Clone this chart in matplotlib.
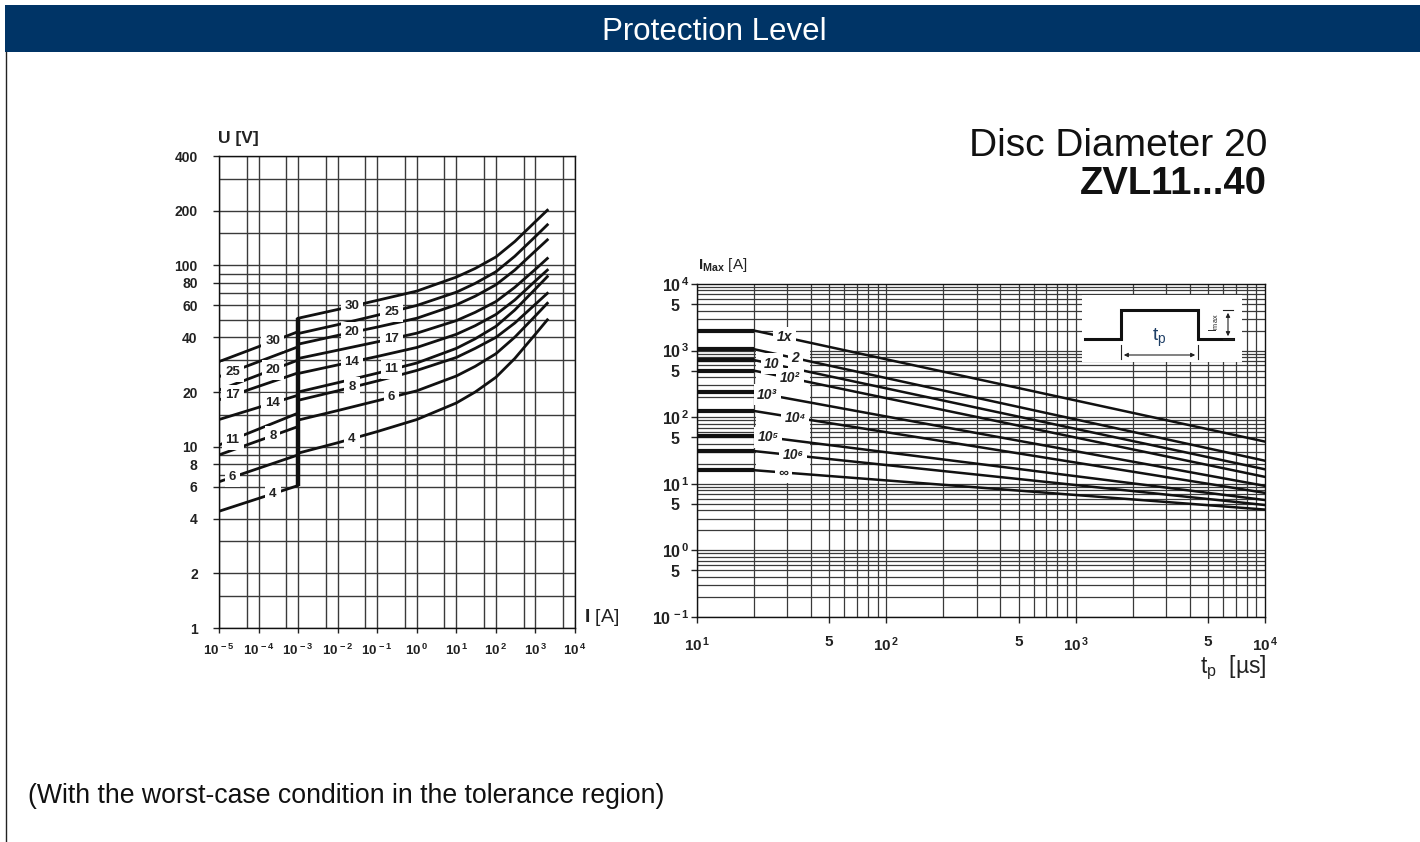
import numpy as np
import matplotlib
matplotlib.use('Agg')
import matplotlib.pyplot as plt
from matplotlib.patches import Rectangle
from matplotlib.lines import Line2D

plt.rcParams['font.family'] = ['Liberation Sans', 'DejaVu Sans']
plt.rcParams['mathtext.fontset'] = 'custom'
plt.rcParams['mathtext.rm'] = 'Liberation Sans'
plt.rcParams['mathtext.bf'] = 'Liberation Sans:bold'
plt.rcParams['mathtext.it'] = 'Liberation Sans:italic'

# ---------------- Left chart data: V/I characteristics ----------------
types = ['4', '6', '8', '11', '14', '17', '20', '25', '30']
# leakage region, straight lines between I = 1e-5 A and 1e-3 A
leak_I = [1e-5, 1e-3]
leak_U_start = [4.4, 6.4, 9.0, 10.2, 14.1, 18.1, 20.5, 24.3, 29.4]
leak_U_end = [6.1, 9.0, 12.9, 15.3, 19.2, 25.5, 30.0, 35.5, 43.0]
# pulse region, I from 1e-3 A to 2e3 A
pulse_I = [1e-3, 1e-2, 1e-1, 1, 10, 30, 100, 300, 1000, 2000]
pulse_U = {
    '4':  [9.2, 10.5, 12.1, 14.1, 17.4, 20.0, 24.1, 30.6, 41.7, 50.0],
    '6':  [14.0, 15.8, 17.9, 20.3, 24.5, 27.7, 32.5, 40.1, 52.6, 61.7],
    '8':  [18.0, 20.3, 23.0, 26.3, 31.0, 34.8, 40.0, 48.0, 61.0, 70.0],
    '11': [20.0, 22.5, 25.4, 28.9, 34.8, 39.3, 46.0, 56.6, 74.0, 86.5],
    '14': [25.3, 28.2, 31.4, 35.2, 41.6, 46.4, 53.5, 64.3, 82.0, 94.0],
    '17': [30.6, 34.0, 37.8, 42.2, 49.5, 55.0, 63.0, 75.5, 95.0, 109.0],
    '20': [36.7, 41.0, 45.6, 51.0, 60.5, 67.5, 78.0, 94.0, 120.0, 138.0],
    '25': [42.0, 47.0, 53.0, 60.0, 71.0, 79.4, 92.0, 112.0, 144.0, 167.0],
    '30': [51.0, 57.0, 64.0, 72.0, 86.0, 96.0, 111.0, 135.0, 174.0, 201.0],
}
left_yticks = [1, 2, 4, 6, 8, 10, 20, 40, 60, 80, 100, 200, 400]
left_xticks = [1e-5, 1e-4, 1e-3, 1e-2, 1e-1, 1e0, 1e1, 1e2, 1e3, 1e4]
left_xtick_labels = [r'$\mathbf{10^{\,%d}}$' % e for e in range(-5, 5)]
left_hgrid = [1, 1.5, 2, 3, 4, 6, 7, 8, 9, 10, 15, 20, 30, 40, 50, 60, 70, 80, 90,
              100, 150, 200, 300, 400]
left_vgrid = [1e-5, 5e-5, 1e-4, 5e-4, 1e-3, 5e-3, 1e-2, 5e-2, 1e-1, 5e-1, 1, 5, 10, 50,
              100, 500, 1000, 5000, 1e4]

# ---------------- Right chart data: derating curves ----------------
pulse_counts = ['1x', '2', '10', '10²', '10³', '10⁴', '10⁵', '10⁶', '∞']
imax_short = [2000, 1050, 720, 500, 237, 124, 53, 31, 16]     # flat part 10..20 us
imax_long = [43, 22.2, 16.5, 12.7, 9.3, 7.3, 5.7, 4.8, 4.1]    # value at 1e4 us
tp_flat = [10, 20]
tp_slope = [20, 10000]
label_tp = [29, 33, 24.9, 31, 23.5, 33, 23.7, 32.2, 28.5]
right_yticks = [0.1, 0.5, 1, 5, 10, 50, 100, 500, 1000, 5000, 10000]
right_ytick_labels = [r'$\mathbf{10^{\,-1}}$', r'$\mathbf{5}$   ', r'$\mathbf{10^{\,0}}$', r'$\mathbf{5}$   ',
                      r'$\mathbf{10^{\,1}}$', r'$\mathbf{5}$   ', r'$\mathbf{10^{\,2}}$', r'$\mathbf{5}$   ',
                      r'$\mathbf{10^{\,3}}$', r'$\mathbf{5}$   ', r'$\mathbf{10^{\,4}}$']
right_xticks = [10, 50, 100, 500, 1000, 5000, 10000]
right_xtick_labels = [r'$\mathbf{10^{\,1}}$', r'$\mathbf{5}$', r'$\mathbf{10^{\,2}}$', r'$\mathbf{5}$',
                      r'$\mathbf{10^{\,3}}$', r'$\mathbf{5}$', r'$\mathbf{10^{\,4}}$']

W, H = 1420, 842
fig = plt.figure(figsize=(W / 100, H / 100), dpi=100)
fig.patch.set_facecolor('white')

# header bar
fig.add_artist(Rectangle((5 / W, 1 - 52 / H), 1 - 5 / W, 47 / H, transform=fig.transFigure,
                         facecolor='#003466', edgecolor='none'))
fig.text(714 / W, 1 - 32 / H, 'Protection Level', color='white', fontsize=22.5,
         ha='center', va='center')
fig.add_artist(Line2D([6 / W, 6 / W], [0, 1 - 52 / H], transform=fig.transFigure,
                      color='#222222', lw=1))
fig.text(28 / W, 1 - 796 / H, '(With the worst-case condition in the tolerance region)',
         fontsize=19.2, ha='left', va='center', color='#111111')
fig.text(1267 / W, 1 - 146 / H, 'Disc Diameter 20', fontsize=28, ha='right', va='center',
         color='#111111')
fig.text(1267 / W, 1 - 184 / H, 'ZVL11...40', fontsize=27.5, ha='right', va='center',
         fontweight='bold', color='#111111')

gcol = '#3a3a3a'

# ---------------- Left chart ----------------
ax1 = fig.add_axes([219 / W, 1 - 628 / H, 356 / W, 472 / H])
ax1.set_xscale('log')
ax1.set_yscale('log')
ax1.set_xlim(1e-5, 1e4)
ax1.set_ylim(1, 400)
for v in left_hgrid:
    ax1.axhline(v, color=gcol, lw=1.0, zorder=1)
for v in left_vgrid:
    ax1.axvline(v, color=gcol, lw=1.0, zorder=1)

def loglog_interp(x, xs, ys):
    return 10 ** np.interp(np.log10(x), np.log10(xs), np.log10(ys))

for i, t in enumerate(types):
    ax1.plot(leak_I, [leak_U_start[i], leak_U_end[i]], color='#111111', lw=2.0, zorder=3,
             solid_capstyle='butt')
    ax1.plot(pulse_I, pulse_U[t], color='#111111', lw=2.0, zorder=3,
             solid_joinstyle='round')
# vertical jump at 1 mA
ax1.plot([1e-3, 1e-3], [leak_U_end[0], pulse_U['30'][0]], color='#111111', lw=3.2, zorder=4,
         solid_capstyle='butt')

lab_kw = dict(fontsize=9.5, fontweight='bold', ha='center', va='center', zorder=5,
              color='#222222',
              bbox=dict(boxstyle='square,pad=0.3', facecolor='white', edgecolor='none'))
for i, t in enumerate(types):
    if t in ('25', '17', '11', '6'):
        xl, xr = 2.2e-5, 0.23
    else:
        xl, xr = 2.3e-4, 0.023
    ax1.text(xl, loglog_interp(xl, leak_I, [leak_U_start[i], leak_U_end[i]]), t, **lab_kw)
    ax1.text(xr, loglog_interp(xr, pulse_I, pulse_U[t]), t, **lab_kw)

ax1.set_yticks(left_yticks)
ax1.set_yticklabels([str(v) for v in left_yticks])
ax1.yaxis.set_minor_locator(matplotlib.ticker.NullLocator())
ax1.set_xticks(left_xticks)
ax1.set_xticklabels(left_xtick_labels)
ax1.xaxis.set_minor_locator(matplotlib.ticker.NullLocator())
ax1.tick_params(axis='y', length=4.3, width=1, pad=11, labelsize=10, colors='#222222')
ax1.tick_params(axis='x', length=3.6, width=1, pad=7, labelsize=9.5, colors='#222222')
for lab in ax1.get_yticklabels():
    lab.set_fontweight('bold')
for s in ax1.spines.values():
    s.set_color('#111111')
    s.set_linewidth(1.0)
ax1.text(-0.003, 1.038, 'U [V]', transform=ax1.transAxes, fontsize=12.5, fontweight='bold',
         ha='left', va='center', color='#222222')
ax1.text(1.026, 0.023, r'$\mathbf{I}$ [A]', transform=ax1.transAxes, fontsize=14,
         ha='left', va='center', color='#222222')

# ---------------- Right chart ----------------
ax2 = fig.add_axes([697 / W, 1 - 617 / H, 568 / W, 333 / H])
ax2.set_xscale('log')
ax2.set_yscale('log')
ax2.set_xlim(10, 1e4)
ax2.set_ylim(0.1, 1e4)
for e in range(-1, 4):
    for k in range(1, 10):
        ax2.axhline(k * 10.0 ** e, color=gcol, lw=0.9, zorder=1)
for e in range(1, 4):
    for k in range(1, 10):
        ax2.axvline(k * 10.0 ** e, color=gcol, lw=0.9, zorder=1)
# blank area behind the curve labels
ax2.add_patch(Rectangle((20.6, 13), 39.3 - 20.6, 1650 - 13, facecolor='white',
                        edgecolor='none', zorder=1.5))
for i, lab in enumerate(pulse_counts):
    ax2.plot(tp_flat, [imax_short[i], imax_short[i]], color='#111111', lw=3.0, zorder=3,
             solid_capstyle='butt')
    ax2.plot(tp_slope, [imax_short[i], imax_long[i]], color='#111111', lw=1.8, zorder=3)
    yl = loglog_interp(label_tp[i], tp_slope, [imax_short[i], imax_long[i]])
    ax2.text(label_tp[i], yl, lab, fontsize=10, fontweight='bold', fontstyle='italic',
             ha='center', va='center', zorder=5, color='#222222',
             bbox=dict(boxstyle='square,pad=0.25', facecolor='white', edgecolor='none'))

ax2.set_yticks(right_yticks)
ax2.set_yticklabels(right_ytick_labels)
ax2.yaxis.set_minor_locator(matplotlib.ticker.NullLocator())
ax2.set_xticks(right_xticks)
ax2.set_xticklabels(right_xtick_labels)
ax2.xaxis.set_minor_locator(matplotlib.ticker.NullLocator())
ax2.tick_params(axis='y', length=4.3, width=1, pad=1, labelsize=11.5, colors='#222222')
ax2.tick_params(axis='x', length=4.3, width=1, pad=9, labelsize=11, colors='#222222')
for s in ax2.spines.values():
    s.set_color('#111111')
    s.set_linewidth(1.0)
ax2.text(0.002, 1.057, r'$\mathbf{I}_{\mathbf{Max}}$ [A]', transform=ax2.transAxes,
         fontsize=11, ha='left', va='center', color='#222222')
ax2.text(1.002, -0.153, r'$\mathrm{t}_{\mathrm{p}}$  [µs]', transform=ax2.transAxes,
         fontsize=16.5, ha='right', va='center', color='#222222')

# pulse shape inset
axi = fig.add_axes([1082 / W, 1 - 362 / H, 160 / W, 67 / H])
axi.set_xlim(0, 160)
axi.set_ylim(67, 0)
axi.set_xticks([])
axi.set_yticks([])
for s in axi.spines.values():
    s.set_visible(False)
axi.set_facecolor('white')
axi.set_zorder(6)
axi.plot([3, 39, 39, 116, 116, 151], [44, 44, 15, 15, 44, 44], color='#111111', lw=2.2,
         solid_joinstyle='miter')
axi.annotate('', xy=(39, 60), xytext=(116, 60),
             arrowprops=dict(arrowstyle='<|-|>', lw=0.8, color='#222222', mutation_scale=6))
axi.plot([39, 39], [50, 64], color='#222222', lw=0.8)
axi.plot([116, 116], [50, 64], color='#222222', lw=0.8)
axi.text(77, 43, r'$\mathrm{t}_{\mathrm{p}}$', fontsize=14, ha='center', va='center',
         color='#1f3f66')
axi.annotate('', xy=(146, 15), xytext=(146, 44),
             arrowprops=dict(arrowstyle='<|-|>', lw=0.8, color='#222222', mutation_scale=6))
axi.plot([141, 151], [15, 15], color='#222222', lw=0.8)
axi.plot([141, 151], [44, 44], color='#222222', lw=0.8)
axi.text(132, 28, r'$\mathrm{I}_{\mathrm{max}}$', fontsize=7.5, rotation=90, ha='center',
         va='center', color='#222222')

fig.savefig('out.png', dpi=100, facecolor='white')
